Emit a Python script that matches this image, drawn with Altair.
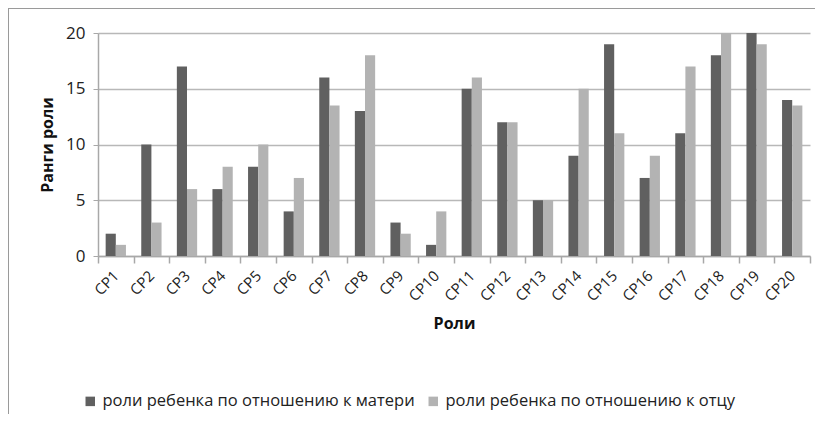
import altair as alt
import pandas as pd

roles = [f"CP{i}" for i in range(1, 21)]
series = ["роли ребенка по отношению к матери", "роли ребенка по отношению к отцу"]
mother = [2, 10, 17, 6, 8, 4, 16, 13, 3, 1, 15, 12, 5, 9, 19, 7, 11, 18, 20, 14]
father = [1, 3, 6, 8, 10, 7, 13.5, 18, 2, 4, 16, 12, 5, 15, 11, 9, 17, 20, 19, 13.5]
colors = ["#606060", "#b3b3b3"]

rows = []
for r, m, f in zip(roles, mother, father):
    rows.append({"role": r, "series": series[0], "value": m})
    rows.append({"role": r, "series": series[1], "value": f})
df = pd.DataFrame(rows)

FONT = "Open Sans"
W, H = 712, 223

xscale = alt.Scale(domain=roles, paddingInner=0, paddingOuter=0)

bars = alt.Chart(df).mark_bar().encode(
    x=alt.X("role:N", sort=roles, scale=xscale,
            axis=alt.Axis(title="Роли", labelAngle=-45, labelAlign="right",
                          labelBaseline="middle", tickBand="extent",
                          tickSize=7, tickColor="#a8a8a8", tickWidth=1.5,
                          labelPadding=10,
                          labelFontSize=15, labelFont=FONT, labelColor="#222",
                          titleFont=FONT, titleFontSize=16, titleFontWeight="bold",
                          titleColor="#111", titlePadding=12,
                          domainColor="#a8a8a8", domainWidth=1.5)),
    xOffset=alt.XOffset("series:N", sort=series,
                        scale=alt.Scale(domain=series, paddingInner=0, paddingOuter=0.754)),
    y=alt.Y("value:Q", scale=alt.Scale(domain=[0, 20], nice=False),
            axis=alt.Axis(title="Ранги роли", values=[0, 5, 10, 15, 20], tickSize=5,
                          tickColor="#a8a8a8", labelFontSize=17, labelFont=FONT,
                          labelColor="#222", labelPadding=8,
                          titleFont=FONT, titleFontSize=16, titleFontWeight="bold",
                          titleColor="#111", titlePadding=10,
                          grid=True, gridColor="#b8b8b8", gridWidth=1.5,
                          domainColor="#a8a8a8", domainWidth=1.5)),
    color=alt.Color("series:N", sort=series,
                    scale=alt.Scale(domain=series, range=colors),
                    legend=alt.Legend(title=None, orient="none", direction="horizontal",
                                      legendX=-16, legendY=360, symbolType="square",
                                      symbolSize=90, symbolStrokeWidth=0,
                                      labelFontSize=16.5, labelFont=FONT, labelColor="#222",
                                      columnPadding=10, labelLimit=500)),
)

frame_df = pd.DataFrame({"a": [0]})
top_line = alt.Chart(frame_df).mark_rule(color="#9a9a9a", strokeWidth=2).encode(
    x=alt.value(-91), x2=alt.value(720), y=alt.value(-25))
left_line = alt.Chart(frame_df).mark_rule(color="#9a9a9a", strokeWidth=2).encode(
    x=alt.value(-90), y=alt.value(-26), y2=alt.value(385))

chart = alt.layer(bars, top_line, left_line).properties(
    width=W, height=H,
    autosize=alt.AutoSizeParams(type="none"),
    padding={"left": 90, "top": 25, "right": 5, "bottom": 158},
).configure(background="white").configure_view(stroke=None)

chart.save("out.html", embed_options={"renderer": "svg", "actions": False})
